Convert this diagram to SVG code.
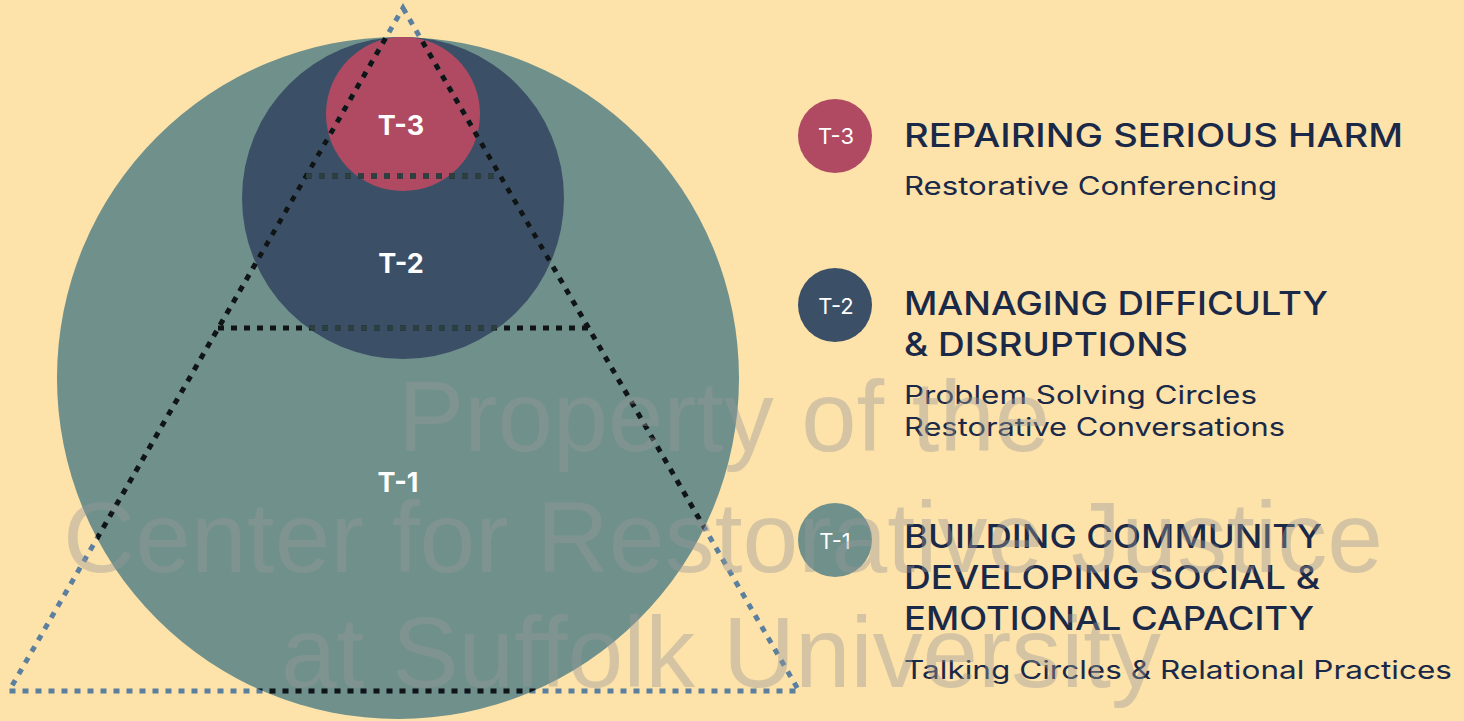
<svg xmlns="http://www.w3.org/2000/svg" width="1464" height="721" viewBox="0 0 1464 721">
  <style>
    .tier-label { font-family: Inter, "Noto Sans", "Liberation Sans", sans-serif; font-weight: 700; font-size: 27px; fill: #ffffff; text-anchor: middle; }
    .badge-label { font-family: Inter, "Noto Sans", "Liberation Sans", sans-serif; font-weight: 400; font-size: 22px; fill: #ffffff; text-anchor: middle; }
    .heading { font-family: Inter, "Noto Sans", "Liberation Sans", sans-serif; font-weight: 500; font-size: 32px; fill: #1b2948; }
    .sub { font-family: Inter, "Noto Sans", "Liberation Sans", sans-serif; font-weight: 400; font-size: 25px; fill: #1b2948; }
    .dots { fill: none; stroke-width: 5; stroke-dasharray: 6 7; stroke-linejoin: miter; }
    .mark { font-family: "Liberation Sans", Arial, sans-serif; font-size: 100px; fill: #999999; fill-opacity: 0.4; }
    .t1 { fill: #6f908b; }
    .t2 { fill: #3b5067; }
    .t3 { fill: #b04a62; }
  </style>
  <defs>
    <clipPath id="clip-outer"><circle cx="398" cy="378" r="341"/></clipPath>
    <clipPath id="clip-mid"><circle cx="403" cy="198" r="161"/></clipPath>
    <path id="pyramid" d="M403 8 L799 691 L9 691 Z"/>
    <path id="bands" d="M306 176 H500 M218 328 H588"/>
  </defs>

  <rect width="1464" height="721" fill="#fde2aa"/>

  <!-- nested tier circles -->
  <g id="tier-1">
    <circle class="t1" cx="398" cy="378" r="341"/>
  </g>
  <g id="tier-2">
    <circle class="t2" cx="403" cy="198" r="161"/>
  </g>
  <g id="tier-3">
    <circle class="t3" cx="403" cy="114" r="77"/>
  </g>

  <!-- dotted pyramid and its band lines -->
  <g id="connectors">
    <use href="#pyramid" class="dots" stroke="#5b7f9e"/>
    <g clip-path="url(#clip-outer)">
      <use href="#pyramid" class="dots" stroke="#111414"/>
      <use href="#bands" class="dots" stroke="#111414"/>
    </g>
    <g clip-path="url(#clip-mid)">
      <use href="#bands" class="dots" stroke="#2c4042"/>
    </g>
  </g>

  <g id="tier-labels">
    <text class="tier-label" x="401" y="135">T-3</text>
    <text class="tier-label" x="401" y="273">T-2</text>
    <text class="tier-label" x="398" y="492">T-1</text>
  </g>

  <!-- legend -->
  <g id="legend-t3">
    <circle class="t3" cx="835" cy="136" r="37"/>
    <text class="badge-label" x="836" y="144">T-3</text>
    <text class="heading" x="904" y="147" textLength="499" lengthAdjust="spacingAndGlyphs">REPAIRING SERIOUS HARM</text>
    <text class="sub" x="904" y="195" textLength="373" lengthAdjust="spacingAndGlyphs">Restorative Conferencing</text>
  </g>
  <g id="legend-t2">
    <circle class="t2" cx="835" cy="305" r="37"/>
    <text class="badge-label" x="836" y="314">T-2</text>
    <text class="heading" x="904" y="315" textLength="424" lengthAdjust="spacingAndGlyphs">MANAGING DIFFICULTY</text>
    <text class="heading" x="904" y="356" textLength="284" lengthAdjust="spacingAndGlyphs">&amp; DISRUPTIONS</text>
    <text class="sub" x="904" y="404" textLength="353" lengthAdjust="spacingAndGlyphs">Problem Solving Circles</text>
    <text class="sub" x="904" y="436" textLength="381" lengthAdjust="spacingAndGlyphs">Restorative Conversations</text>
  </g>
  <g id="legend-t1">
    <circle class="t1" cx="835" cy="540" r="37"/>
    <text class="badge-label" x="835" y="549">T-1</text>
    <text class="heading" x="904" y="548" textLength="418" lengthAdjust="spacingAndGlyphs">BUILDING COMMUNITY</text>
    <text class="heading" x="904" y="589" textLength="416" lengthAdjust="spacingAndGlyphs">DEVELOPING SOCIAL &amp;</text>
    <text class="heading" x="904" y="630" textLength="410" lengthAdjust="spacingAndGlyphs">EMOTIONAL CAPACITY</text>
    <text class="sub" x="904" y="679" textLength="548" lengthAdjust="spacingAndGlyphs">Talking Circles &amp; Relational Practices</text>
  </g>

  <!-- ownership watermark -->
  <g id="watermark">
    <text class="mark" x="398" y="451" textLength="652" lengthAdjust="spacingAndGlyphs">Property of the</text>
    <text class="mark" x="63" y="572" textLength="1320" lengthAdjust="spacingAndGlyphs">Center for Restorative Justice</text>
    <text class="mark" x="281" y="687" textLength="880" lengthAdjust="spacingAndGlyphs">at Suffolk University</text>
  </g>
</svg>
